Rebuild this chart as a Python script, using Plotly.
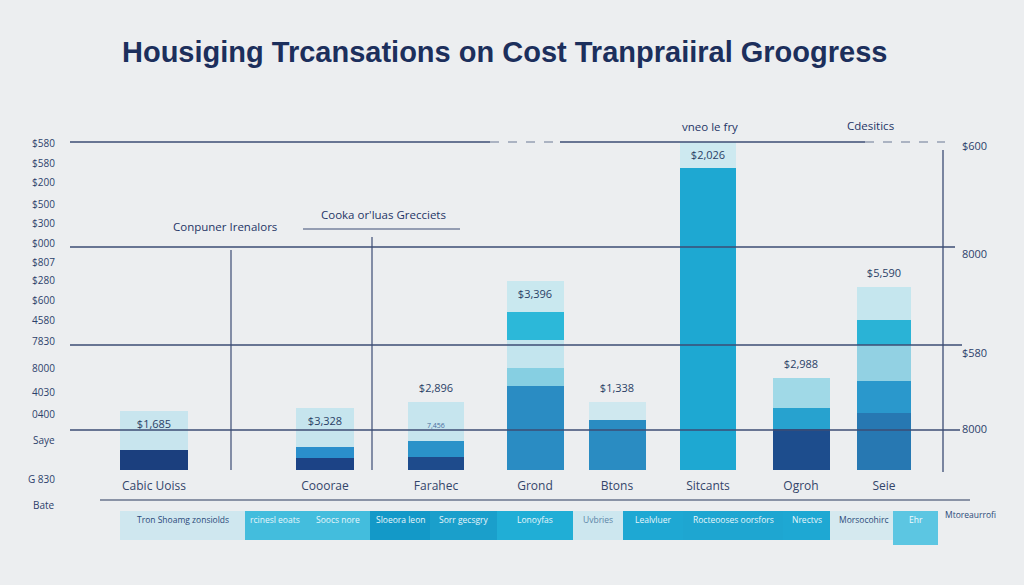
import plotly.graph_objects as go

# ---------------- data ----------------
categories = ["Cabic Uoiss", "Cooorae", "Farahec", "Grond", "Btons", "Sitcants", "Ogroh", "Seie"]
layer_base = [50, 30, 32.5, 210, 125, 755, 102.5, 142.5]
layer_mid = [0, 27.5, 40, 45, 0, 0, 52.5, 80]
layer_light = [97.5, 97.5, 97.5, 70, 45, 65, 75, 90]
layer_upper = [0, 0, 0, 70, 0, 0, 0, 62.5]
layer_top = [0, 0, 0, 77.5, 0, 0, 0, 82.5]
value_labels = ["$1,685", "$3,328", "$2,896", "$3,396", "$1,338", "$2,026", "$2,988", "$5,590"]

left_ticks = ["$580", "$580", "$200", "$500", "$300", "$000", "$807", "$280", "$600", "4580",
              "7830", "8000", "4030", "0400", "Saye", "G 830", "Bate"]
right_ticks = ["$600", "8000", "$580", "8000"]
grid_levels = [820, 557.5, 312.5, 100]

strip_labels = ["Tron Shoamg zonsiolds", "rcinesl eoats", "Soocs nore", "Sloeora leon",
                "Sorr gecsgry", "Lonoyfas", "Uvbries", "Lealvluer", "Rocteooses oorsfors",
                "Nrectvs", "Morsocohirc", "Ehr"]

# ---------------- layout helpers (pixel placement) ----------------
W, H = 1024, 585


def py(p):  # pixel row -> data y
    return (470 - p) * 2.5


Y_TOP, Y_BOT = py(0), py(H)

bar_x = [154, 325, 436, 535, 617, 708, 801, 884]
bar_w = [68, 58, 56, 57, 57, 56, 57, 54]
label_mode = ["in", "in", "out", "in", "out", "in", "out", "out"]
left_tick_px = [143, 163, 182, 204, 223, 243, 262, 280, 300, 320, 341, 368, 392, 414, 440, 479, 505]
right_tick_px = [145, 253, 352, 428]

NAVY = "#1c2f5c"
BG = "#eceef0"
fig = go.Figure()

layers = [
    (layer_base, ["#1b3f7e", "#1c4386", "#1e4b8c", "#2a8cc3", "#2a8cc2", "#1ea8d2", "#1d4d8d", "#2778b2"]),
    (layer_mid, ["#000", "#2a8fcc", "#2a92c9", "#86cfe2", "#000", "#000", "#27a2cf", "#2a98cc"]),
    (layer_light, ["#c8e5ee", "#c6e5ee", "#c6e5ee", "#c3e5ee", "#cfe8ef", "#cde9f0", "#a0d9e7", "#92d1e3"]),
    (layer_upper, ["#000", "#000", "#000", "#2cb8d9", "#000", "#000", "#000", "#2ab3d6"]),
    (layer_top, ["#000", "#000", "#000", "#c9e8ef", "#000", "#000", "#000", "#c5e6ee"]),
]
for vals, cols in layers:
    fig.add_trace(go.Bar(x=bar_x, y=vals, width=bar_w, marker=dict(color=cols, line=dict(width=0)),
                         hoverinfo="skip", showlegend=False))

totals = [sum(v) for v in zip(layer_base, layer_mid, layer_light, layer_upper, layer_top)]
label_y = [t - 35 if m == "in" else t + 32 for t, m in zip(totals, label_mode)]
fig.add_trace(go.Scatter(x=bar_x, y=label_y, mode="text", text=value_labels,
                         textfont=dict(family="Open Sans", size=11, color="#2a3f66"),
                         hoverinfo="skip", showlegend=False))
# category labels
fig.add_trace(go.Scatter(x=bar_x, y=[py(487)] * len(bar_x), mode="text", text=categories,
                         textfont=dict(family="Open Sans", size=12, color="#33456a"),
                         hoverinfo="skip", showlegend=False))

shapes = []
line_c = "#3c4c74"
g0, g1, g2, g3 = grid_levels
shapes += [
    dict(type="line", x0=70, x1=490, y0=g0, y1=g0, line=dict(color=line_c, width=1.3)),
    dict(type="line", x0=490, x1=560, y0=g0, y1=g0, line=dict(color="#6a7894", width=1.2, dash="dash")),
    dict(type="line", x0=560, x1=865, y0=g0, y1=g0, line=dict(color=line_c, width=1.3)),
    dict(type="line", x0=865, x1=945, y0=g0, y1=g0, line=dict(color="#6a7894", width=1.2, dash="dash")),
    dict(type="line", x0=70, x1=955, y0=g1, y1=g1, line=dict(color=line_c, width=1.3)),
    dict(type="line", x0=70, x1=962, y0=g2, y1=g2, line=dict(color=line_c, width=1.3)),
    dict(type="line", x0=70, x1=960, y0=g3, y1=g3, line=dict(color=line_c, width=1.3)),
    dict(type="line", x0=231, x1=231, y0=py(250), y1=py(470), line=dict(color=line_c, width=1.2)),
    dict(type="line", x0=372, x1=372, y0=py(237), y1=py(470), line=dict(color=line_c, width=1.2)),
    dict(type="line", x0=943, x1=943, y0=py(150), y1=py(472), line=dict(color=line_c, width=1.3)),
    dict(type="line", x0=303, x1=460, y0=py(229), y1=py(229), line=dict(color=line_c, width=1.2)),
    dict(type="line", x0=100, x1=970, y0=py(500), y1=py(500), line=dict(color="#8a93a6", width=2)),
]

strip_boxes = [(120, 245, "#cfe7ef", "#2b4a7a"), (245, 305, "#43bddd", "#e8f6fb"), (305, 370, "#43bddd", "#e8f6fb"),
               (370, 430, "#1399c8", "#e8f6fb"), (430, 497, "#1a9fcb", "#e8f6fb"), (497, 573, "#20aed6", "#e8f6fb"),
               (573, 623, "#cde7ef", "#5d86a8"), (623, 683, "#1ea8d3", "#e8f6fb"), (683, 783, "#1ea6d1", "#e8f6fb"),
               (783, 830, "#1ea8d3", "#e8f6fb"), (830, 898, "#d5e9ef", "#2b4a7a"), (893, 938, "#5cc6e2", "#f2fbfe")]
annotations = []
for (x0, x1, fc, tc), lab in zip(strip_boxes, strip_labels):
    y1p = 545 if lab == "Ehr" else 540
    shapes.append(dict(type="rect", x0=x0, x1=x1, y0=py(511), y1=py(y1p), fillcolor=fc, line=dict(width=0),
                       layer="below"))
    annotations.append(dict(x=(x0 + x1) / 2, y=py(519), text=lab, showarrow=False,
                            font=dict(family="Open Sans", size=8.5, color=tc)))
annotations.append(dict(x=970, y=py(514), text="Mtoreaurrofi", showarrow=False,
                        font=dict(family="Open Sans", size=8.5, color="#2b4a7a")))
annotations.append(dict(x=436, y=py(425), text="7,456", showarrow=False,
                        font=dict(family="Open Sans", size=7, color="#4a6fa0")))

for lab, p in zip(left_ticks, left_tick_px):
    annotations.append(dict(x=57, y=py(p), text=lab, showarrow=False, xanchor="right",
                            font=dict(family="Open Sans", size=10, color="#2c3f6b")))
for lab, p in zip(right_ticks, right_tick_px):
    annotations.append(dict(x=960, y=py(p), text=lab, showarrow=False, xanchor="left",
                            font=dict(family="Open Sans", size=11, color="#2c3f6b")))

for txt, x, p, sz in [("Conpuner Irenalors", 225, 226, 11.5), ("Cooka or'luas Grecciets", 383, 214, 11.5),
                      ("vneo le fry", 710, 126, 11.5), ("Cdesitics", 870, 125, 11.5)]:
    annotations.append(dict(x=x, y=py(p), text=txt, showarrow=False,
                            font=dict(family="Open Sans", size=sz, color="#1f3566")))

annotations.append(dict(x=504, y=py(52), text="<b>Housiging Trcansations on Cost Tranpraiiral Groogress</b>",
                        showarrow=False, font=dict(family="Liberation Sans", size=29, color=NAVY)))

fig.update_layout(
    width=W, height=H, barmode="stack", bargap=0,
    margin=dict(l=0, r=0, t=0, b=0),
    paper_bgcolor=BG, plot_bgcolor=BG,
    xaxis=dict(range=[0, W], visible=False, fixedrange=True),
    yaxis=dict(range=[Y_BOT, Y_TOP], visible=False, fixedrange=True),
    shapes=shapes, annotations=annotations,
)
fig.write_html(
    "out.html",
    config={"displayModeBar": False},
    post_script="document.body.style.margin='0';document.body.style.overflow='hidden';"
                "document.body.style.background='" + BG + "';",
)
